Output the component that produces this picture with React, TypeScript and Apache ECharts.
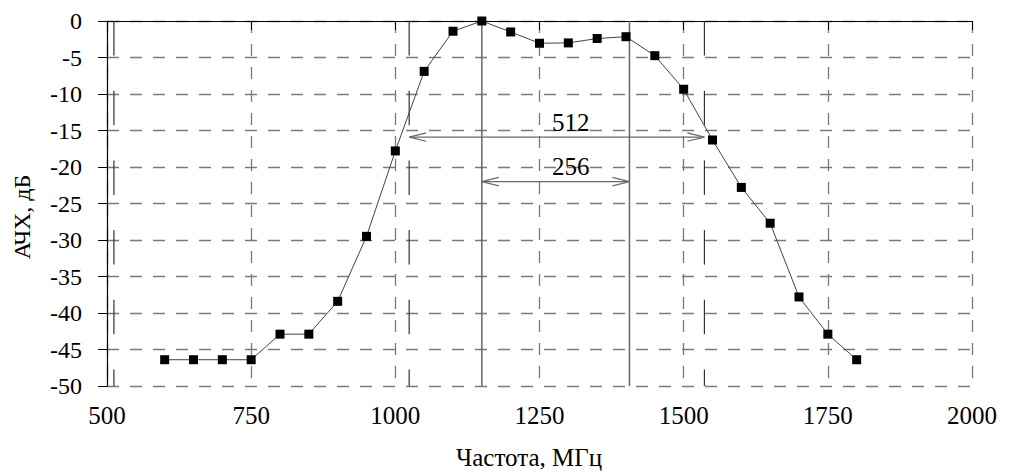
import React, { useEffect, useRef } from "react";
import * as echarts from "echarts";

const frequencies = [600, 650, 700, 750, 800, 850, 900, 950, 1000, 1050, 1100, 1150, 1200, 1250, 1300, 1350, 1400, 1450, 1500, 1550, 1600, 1650, 1700, 1750, 1800];
const responseDb = [-46.4, -46.4, -46.4, -46.4, -42.9, -42.9, -38.4, -29.5, -17.8, -6.9, -1.4, 0, -1.5, -3.05, -3.0, -2.4, -2.15, -4.75, -9.35, -16.3, -22.8, -27.7, -37.8, -42.9, -46.4];

const xMin = 500;
const xMax = 2000;
const xStep = 250;
const yMin = -50;
const yMax = 0;
const yStep = 5;

const longDashX = [512, 1024, 1536];
const solidX = [1150, 1406];

const arrowFrom = [1024, 1150];
const arrowTo = [1536, 1406];
const arrowLevel = [-15.9, -22];
const arrowText = ["512", "256"];
const arrowTextX = [1304, 1304];
const arrowTextY = [-13.9, -19.9];

const xTitle = "Частота, МГц";
const yTitle = "АЧХ, дБ";

const FONT = "'Liberation Serif', 'Times New Roman', serif";

export default function App() {
  const ref = useRef<HTMLDivElement>(null);
  useEffect(() => {
    if (!ref.current) return;
    const chart = echarts.init(ref.current, undefined, { renderer: "svg" });
    const arrowData = arrowFrom.map((a, i) => [a, arrowTo[i], arrowLevel[i], arrowTextX[i], arrowTextY[i], i]);
    const guideData = [...longDashX.map((x) => [x, 0]), ...solidX.map((x) => [x, 1])];
    const option: any = {
      animation: false,
      backgroundColor: "#ffffff",
      grid: { left: 107, right: 37, top: 21, bottom: 87, containLabel: false },
      xAxis: {
        type: "value",
        min: xMin,
        max: xMax,
        interval: xStep,
        axisLine: { lineStyle: { color: "#000", width: 1.2 } },
        axisTick: { show: true, length: 9, inside: false, lineStyle: { color: "#000", width: 1 } },
        axisLabel: { color: "#000", fontSize: 25, fontFamily: FONT, margin: 17, formatter: (v: number) => String(v) },
        splitLine: { show: true, lineStyle: { color: "#7a7a7a", width: 1.3, type: [12, 11] } },
      },
      yAxis: {
        type: "value",
        min: yMin,
        max: yMax,
        interval: yStep,
        axisLine: { show: true, onZero: false, lineStyle: { color: "#000", width: 1.2 } },
        axisTick: { show: true, length: 9, inside: false, lineStyle: { color: "#000", width: 1 } },
        axisLabel: { color: "#000", fontSize: 24, fontFamily: FONT, margin: 25, formatter: (v: number) => String(v) },
        splitLine: { show: true, lineStyle: { color: "#7a7a7a", width: 1.3, type: [12, 11] } },
      },
      graphic: [
        {
          type: "text",
          x: 529,
          y: 457,
          style: { text: xTitle, fill: "#000", font: `25px ${FONT}`, textAlign: "center", textVerticalAlign: "middle" },
        },
        {
          type: "text",
          x: 22,
          y: 217,
          rotation: Math.PI / 2,
          style: { text: yTitle, fill: "#000", font: `24px ${FONT}`, textAlign: "center", textVerticalAlign: "middle" },
        },
      ],
      series: [
        {
          type: "custom",
          data: guideData,
          z: 3,
          silent: true,
          clip: false,
          renderItem: (params: any, api: any) => {
            const top = api.coord([api.value(0), yMax]);
            const bot = api.coord([api.value(0), yMin]);
            const kind = api.value(1);
            if (kind === 1) {
              return {
                type: "line",
                shape: { x1: top[0], y1: top[1], x2: bot[0], y2: bot[1] },
                style: { stroke: "#666", lineWidth: 1.5 },
              };
            }
            const dash = 34.5;
            const period = 69.7;
            const children: any[] = [];
            for (let y = top[1]; y < bot[1]; y += period) {
              const y2 = Math.min(y + dash, bot[1]);
              children.push({
                type: "line",
                shape: { x1: top[0], y1: y, x2: top[0], y2 },
                style: { stroke: "#333", lineWidth: 1.2 },
              });
            }
            return { type: "group", children };
          },
        },
        {
          type: "line",
          data: frequencies.map((f, i) => [f, responseDb[i]]),
          symbol: "rect",
          symbolSize: 9,
          itemStyle: { color: "#000" },
          lineStyle: { color: "#444", width: 1 },
          z: 5,
        },
        {
          type: "custom",
          data: arrowData,
          z: 4,
          silent: true,
          renderItem: (params: any, api: any) => {
            const p1 = api.coord([api.value(0), api.value(2)]);
            const p2 = api.coord([api.value(1), api.value(2)]);
            const tp = api.coord([api.value(3), api.value(4)]);
            const idx = api.value(5);
            const hl = 17;
            const hw = 4.2;
            const stroke = { stroke: "#6a6a6a", lineWidth: 1.2, fill: "none" };
            return {
              type: "group",
              children: [
                { type: "line", shape: { x1: p1[0], y1: p1[1], x2: p2[0], y2: p2[1] }, style: stroke },
                { type: "polyline", shape: { points: [[p1[0] + hl, p1[1] - hw], [p1[0], p1[1]], [p1[0] + hl, p1[1] + hw]] }, style: stroke },
                { type: "polyline", shape: { points: [[p2[0] - hl, p2[1] - hw], [p2[0], p2[1]], [p2[0] - hl, p2[1] + hw]] }, style: stroke },
                {
                  type: "text",
                  x: tp[0],
                  y: tp[1],
                  style: { text: arrowText[idx], fill: "#000", font: `25px ${FONT}`, textAlign: "center", textVerticalAlign: "middle" },
                },
              ],
            };
          },
        },
      ],
    };
    chart.setOption(option);
    return () => chart.dispose();
  }, []);
  return <div ref={ref} style={{ position: "fixed", left: 0, top: 0, width: 1009, height: 473, background: "#fff" }} />;
}
